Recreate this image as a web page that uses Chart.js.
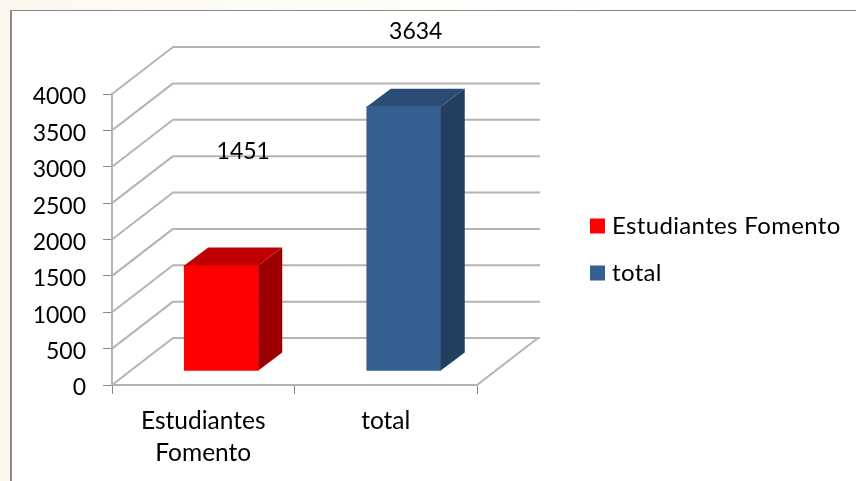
<!DOCTYPE html>
<html><head><meta charset="utf-8">
<script src="https://cdn.jsdelivr.net/npm/chart.js@4"></script>
<style>
html,body{margin:0;padding:0;background:#fff;}
#wrap{position:relative;width:856px;height:481px;overflow:hidden;background:linear-gradient(90deg,#fbf8ee 0,#fdfcf6 300px,#fff 600px);}
#frame{position:absolute;left:10px;top:10px;width:860px;height:490px;background:#fff;border:1px solid #8a8a8a;border-left-width:2px;box-sizing:border-box;}
canvas{position:absolute;left:0;top:0;}
</style></head><body>
<div id="wrap"><div id="frame"></div><canvas id="c" width="856" height="481"></canvas></div>
<script>
const categories = [["Estudiantes","Fomento"],"total"];
const legendNames = ["Estudiantes Fomento","total"];
const values = [1451,3634];
const frontColors = ["#ff0000","#376092"];
const topColors = ["#c00000","#2b4c74"];
const sideColors = ["#9c0000","#233f60"];
const yTicks = [0,500,1000,1500,2000,2500,3000,3500,4000];
const labelOffsets = [[40,-128],[30,-89]];

const WALL = {dx:61,dy:-47}, BAR = {dx:18,dy:-14}, DEPTH = {dx:24,dy:-18};
const GRID = "#b4b4b4", FONT = "Lato";
const LEGEND = {boxX:590,textX:612,firstY:226,step:47,box:15,font:24,spacing:"0.35px"};

const scene = {
  id:"scene",
  beforeDatasetsDraw(chart){
    const {ctx,chartArea:a,scales:{y}} = chart;
    ctx.save();
    ctx.strokeStyle = GRID; ctx.lineWidth = 2; ctx.lineJoin="round";
    yTicks.forEach(t=>{
      const py = y.getPixelForValue(t);
      ctx.beginPath();
      ctx.moveTo(a.left,py);
      ctx.lineTo(a.left+WALL.dx,py+WALL.dy);
      ctx.lineTo(a.right+WALL.dx+2,py+WALL.dy);
      ctx.stroke();
    });
    const p0 = y.getPixelForValue(0);
    ctx.beginPath();
    ctx.moveTo(a.right,p0);
    ctx.lineTo(a.right+WALL.dx,p0+WALL.dy);
    ctx.stroke();
    ctx.restore();
    ctx.save();
    ctx.translate(BAR.dx,BAR.dy);
  },
  afterDatasetsDraw(chart){
    const {ctx} = chart;
    ctx.restore();
    ctx.save();
    chart.getDatasetMeta(0).data.forEach((el,i)=>{
      const l=el.x-el.width/2+BAR.dx, r=el.x+el.width/2+BAR.dx, t=el.y+BAR.dy, b=el.base+BAR.dy;
      ctx.fillStyle=topColors[i];
      ctx.beginPath();ctx.moveTo(l,t);ctx.lineTo(l+DEPTH.dx,t+DEPTH.dy);ctx.lineTo(r+DEPTH.dx,t+DEPTH.dy);ctx.lineTo(r,t);ctx.closePath();ctx.fill();
      ctx.fillStyle=sideColors[i];
      ctx.beginPath();ctx.moveTo(r,t);ctx.lineTo(r+DEPTH.dx,t+DEPTH.dy);ctx.lineTo(r+DEPTH.dx,b+DEPTH.dy);ctx.lineTo(r,b);ctx.closePath();ctx.fill();
      ctx.fillStyle="#000";ctx.font="23px "+FONT;ctx.textAlign="center";ctx.textBaseline="middle";
      ctx.fillText(String(values[i]),el.x+labelOffsets[i][0],el.y+labelOffsets[i][1]);
    });
    ctx.restore();
  },
  afterDraw(chart){
    const {ctx} = chart;
    ctx.save();
    ctx.font=LEGEND.font+"px "+FONT;
    ctx.letterSpacing=LEGEND.spacing;
    ctx.textAlign="left";ctx.textBaseline="middle";
    legendNames.forEach((n,i)=>{
      const cy=LEGEND.firstY+i*LEGEND.step;
      ctx.fillStyle=frontColors[i];
      ctx.fillRect(LEGEND.boxX,cy-LEGEND.box/2,LEGEND.box,LEGEND.box);
      ctx.fillStyle="#000";
      ctx.fillText(n,LEGEND.textX,cy);
    });
    ctx.restore();
  }
};

new Chart(document.getElementById("c"),{
  type:"bar",
  data:{labels:categories,datasets:[{data:values,backgroundColor:frontColors,barThickness:74,borderWidth:0}]},
  plugins:[scene],
  options:{
    responsive:false,animation:false,
    layout:{padding:{top:94,left:0,right:379,bottom:0}},
    plugins:{tooltip:{enabled:false},legend:{display:false}},
    scales:{
      x:{
        grid:{drawOnChartArea:false,drawTicks:true,tickLength:9,color:"#868686"},
        border:{color:GRID,width:2},
        ticks:{color:"#000",font:{family:FONT,size:24.5,lineHeight:1.31},padding:11,maxRotation:0,autoSkip:false},
        afterFit(s){s.height=96;}
      },
      y:{
        min:0,max:4000,
        afterBuildTicks(s){s.ticks=yTicks.map(v=>({value:v}));},
        grid:{drawOnChartArea:false,drawTicks:true,tickLength:9,color:"#868686"},
        border:{color:GRID,width:2},
        ticks:{color:"#000",font:{family:FONT,size:23,lineHeight:"6px"},padding:17,callback:v=>["",String(v)]},
        afterFit(s){s.width=112;}
      }
    }
  }
});
</script></body></html>
